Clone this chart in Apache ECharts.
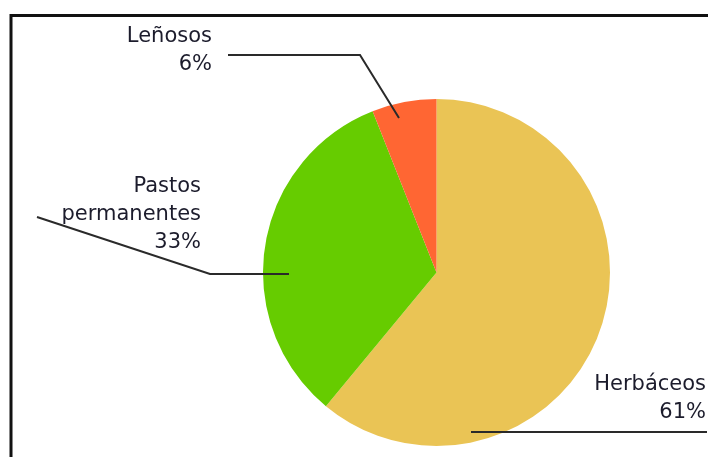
<!DOCTYPE html>
<html>
<head>
<meta charset="utf-8">
<script src="https://cdn.jsdelivr.net/npm/echarts@6/dist/echarts.min.js"></script>
<style>
  html, body { margin: 0; padding: 0; background: #fff; }
  #chart { width: 708px; height: 457px; }
</style>
</head>
<body>
<div id="chart"></div>
<script>
// Land use shares (%)
const categories = ['Herbáceos', 'Pastos\npermanentes', 'Leñosos'];
const shares = [61, 33, 6];
const colors = ['#EAC455', '#66CC00', '#FF6633'];

// Label anchors (right edge, vertical middle) and leader line paths
const labelAnchors = [
  [706, 399],
  [201, 215],
  [212, 51]
];
const leaderPaths = [
  [[471, 432], [707, 432]],
  [[289, 274], [210, 274], [37, 217]],
  [[399, 118], [360, 55], [228, 55]]
];

const chart = echarts.init(document.getElementById('chart'), null, { renderer: 'canvas' });

// Leader lines sit above the slices, so they are drawn as graphic polylines
const leaderGraphics = leaderPaths.map(pts => ({
  type: 'polyline',
  z: 100,
  silent: true,
  shape: { points: pts },
  style: { stroke: '#2a2a2a', lineWidth: 2, fill: null }
}));

chart.setOption({
  animation: false,
  backgroundColor: '#ffffff',
  graphic: [
    { type: 'line', shape: { x1: 11, y1: 15.5, x2: 708, y2: 15.5 }, style: { stroke: '#111', lineWidth: 3 } },
    { type: 'line', shape: { x1: 11, y1: 14, x2: 11, y2: 457 }, style: { stroke: '#111', lineWidth: 3 } }
  ].concat(leaderGraphics),
  series: [{
    type: 'pie',
    center: [436.5, 272.5],
    radius: [0, 173.5],
    startAngle: 90,
    clockwise: true,
    avoidLabelOverlap: false,
    silent: true,
    data: categories.map((name, i) => ({
      name: name,
      value: shares[i],
      itemStyle: { color: colors[i] }
    })),
    label: {
      show: true,
      position: 'outside',
      formatter: p => p.name + '\n' + p.value + '%',
      fontFamily: 'DejaVu Sans',
      fontSize: 21,
      lineHeight: 28,
      color: '#1c1c2c',
      align: 'right'
    },
    labelLine: { show: false },
    labelLayout: function (params) {
      const i = params.dataIndex;
      return {
        x: labelAnchors[i][0],
        y: labelAnchors[i][1],
        align: 'right',
        verticalAlign: 'middle'
      };
    }
  }]
});
</script>
</body>
</html>
